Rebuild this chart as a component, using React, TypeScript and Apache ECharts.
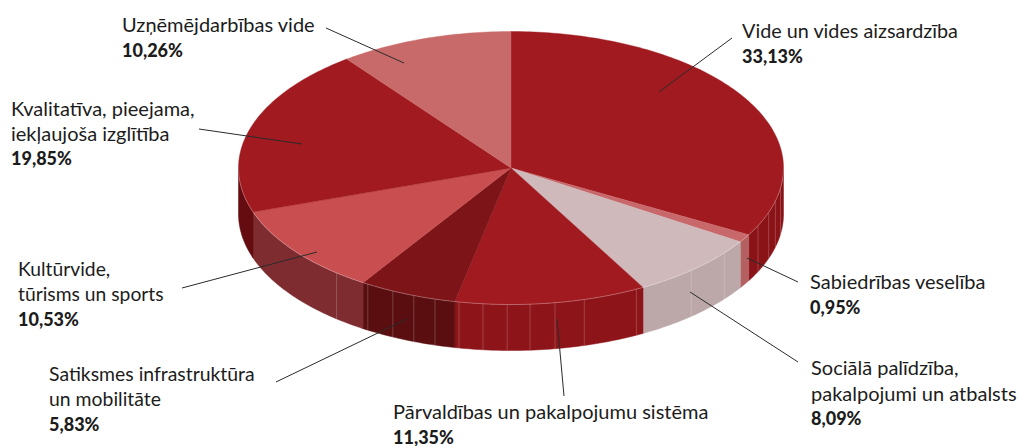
import React, { useEffect, useRef } from "react";
import * as echarts from "echarts";

const categories = [
  "Vide un vides aizsardzība",
  "Sabiedrības veselība",
  "Sociālā palīdzība, pakalpojumi un atbalsts",
  "Pārvaldības un pakalpojumu sistēma",
  "Satiksmes infrastruktūra un mobilitāte",
  "Kultūrvide, tūrisms un sports",
  "Kvalitatīva, pieejama, iekļaujoša izglītība",
  "Uzņēmējdarbības vide",
];
const values = [33.13, 0.95, 8.09, 11.35, 5.83, 10.53, 19.85, 10.26];
const percentLabels = ["33,13%", "0,95%", "8,09%", "11,35%", "5,83%", "10,53%", "19,85%", "10,26%"];
const labelLines = [
  ["Vide un vides aizsardzība"],
  ["Sabiedrības veselība"],
  ["Sociālā palīdzība,", "pakalpojumi un atbalsts"],
  ["Pārvaldības un pakalpojumu sistēma"],
  ["Satiksmes infrastruktūra", "un mobilitāte"],
  ["Kultūrvide,", "tūrisms un sports"],
  ["Kvalitatīva, pieejama,", "iekļaujoša izglītība"],
  ["Uzņēmējdarbības vide"],
];
const topColors = ["#A01A20", "#C8686A", "#D0B9BB", "#A01A20", "#7D1518", "#C94E50", "#A01A20", "#C96A6A"];
const wallColors = ["#8A1318", "#B45F60", "#BCA8A8", "#8D1418", "#5A0E10", "#7E2C30", "#650C10", "#8A3A3C"];
// angles (deg clockwise from north) of the facet seams on the wall
const seamAngles = [98.5, 104, 109, 115, 128.5, 138.6, 152.6, 164.4, 170.7, 176, 180.8, 185.9, 191, 196.2, 200.9, 205.7, 211.7, 219.8];

const CX = 511, CY = 168, RX = 272.5, RY = 136.5, DEPTH = 46;
const rad = (d: number) => (d * Math.PI) / 180;
const px = (a: number) => CX + RX * Math.sin(rad(a));
const py = (a: number) => CY - RY * Math.cos(rad(a));

// the original's 3D projection draws the front slices slightly rotated
const warpStops = [[0, 0], [123, 0], [150, 0.8], [215, 0.8], [251, 0.4], [360, 0]];
function warp(a: number) {
  for (let k = 1; k < warpStops.length; k++) {
    const [a0, d0] = warpStops[k - 1], [a1, d1] = warpStops[k];
    if (a <= a1) return a - (d0 + ((d1 - d0) * (a - a0)) / (a1 - a0));
  }
  return a;
}

const total = values.reduce((s, v) => s + v, 0);
const spans: [number, number][] = [];
values.reduce((acc, v) => {
  const next = acc + (v / total) * 360;
  spans.push([warp(acc), warp(next)]);
  return next;
}, 0);

function arcPts(a0: number, a1: number): number[][] {
  const pts: number[][] = [];
  const n = Math.max(2, Math.ceil(Math.abs(a1 - a0)));
  for (let i = 0; i <= n; i++) {
    const a = a0 + ((a1 - a0) * i) / n;
    pts.push([px(a), py(a)]);
  }
  return pts;
}

const labelLayout = [
  { x: 742, y: 30, gap: 26, size: 19.8, line: [732, 38, 659, 92] },
  { x: 810, y: 281, gap: 26, size: 20, line: [798, 282, 747, 258] },
  { x: 811, y: 367, gap: 25.7, size: 20, line: [798, 362, 690, 292] },
  { x: 393, y: 411, gap: 25.5, size: 20, line: [564, 396, 557, 319] },
  { x: 49, y: 373, gap: 25.7, size: 19.4, line: [276, 382, 407, 319] },
  { x: 18, y: 268, gap: 25.7, size: 19.3, line: [182, 288, 317, 252] },
  { x: 11, y: 108, gap: 25, size: 20, line: [199, 129, 302, 144] },
  { x: 122, y: 24, gap: 26, size: 20, line: [326, 28, 404, 63] },
];
const FONT = "Lato, 'Noto Sans', sans-serif";

function renderWalls(params: any, api: any) {
  const i = params.dataIndex;
  const [s, e] = spans[i];
  const a0 = Math.max(s, 90), a1 = Math.min(e, 270);
  if (a1 <= a0) return { type: "group", children: [] };
  const upper = arcPts(a0, a1);
  const lower = upper.map(([x, y]) => [x, y + DEPTH]).reverse();
  return {
    type: "polygon",
    shape: { points: upper.concat(lower) },
    style: { fill: wallColors[i], stroke: wallColors[i], lineWidth: 0.5 },
  };
}

function renderTop(params: any, api: any) {
  const i = params.dataIndex;
  const [s, e] = spans[i];
  return {
    type: "polygon",
    shape: { points: [[CX, CY], ...arcPts(s, e)] },
    style: { fill: topColors[i], stroke: topColors[i], lineWidth: 0.4 },
  };
}

function renderSeam(params: any, api: any) {
  const a = api.value(0);
  return {
    type: "line",
    shape: { x1: px(a), y1: py(a), x2: px(a), y2: py(a) + DEPTH },
    style: { stroke: "rgba(255,255,255,0.2)", lineWidth: 1 },
  };
}

function renderRim() {
  return {
    type: "polyline",
    shape: { points: arcPts(90, 270) },
    style: { fill: "none", stroke: "rgba(255,255,255,0.35)", lineWidth: 0.8 },
  };
}

function renderLeader(params: any, api: any) {
  const [x1, y1, x2, y2] = labelLayout[params.dataIndex].line;
  return {
    type: "line",
    shape: { x1, y1, x2, y2 },
    style: { stroke: "#2b2b2b", lineWidth: 1 },
  };
}

function renderLabel(params: any, api: any) {
  const i = params.dataIndex;
  const { x, y, gap, size } = labelLayout[i];
  const children: any[] = labelLines[i].map((t, k) => ({
    type: "text",
    style: {
      x, y: y + k * gap, text: t, fill: "#1c1c1c",
      font: `400 ${size}px ${FONT}`, textAlign: "left", textVerticalAlign: "middle",
    },
  }));
  children.push({
    type: "text",
    style: {
      x, y: y + labelLines[i].length * gap, text: percentLabels[i], fill: "#1c1c1c",
      font: `900 18px ${FONT}`, textAlign: "left", textVerticalAlign: "middle",
    },
  });
  return { type: "group", children };
}

export default function App() {
  const ref = useRef<HTMLDivElement>(null);
  useEffect(() => {
    document.body.style.margin = "0";
    const chart = echarts.init(ref.current!, undefined, { renderer: "svg" });
    const base = { type: "custom", coordinateSystem: "none", silent: true, animation: false };
    chart.setOption({
      animation: false,
      backgroundColor: "#ffffff",
      series: [
        { ...base, name: "walls", renderItem: renderWalls, data: values, z: 1 },
        { ...base, name: "seams", renderItem: renderSeam, data: seamAngles, z: 2 },
        { ...base, name: "tops", renderItem: renderTop, data: categories.map((c, i) => ({ name: c, value: values[i] })), z: 3 },
        { ...base, name: "rim", renderItem: renderRim, data: [1], z: 4 },
        { ...base, name: "leaders", renderItem: renderLeader, data: values, z: 5 },
        { ...base, name: "labels", renderItem: renderLabel, data: values, z: 6 },
      ],
    });
    return () => chart.dispose();
  }, []);
  return <div ref={ref} style={{ width: 1019, height: 446 }} />;
}
